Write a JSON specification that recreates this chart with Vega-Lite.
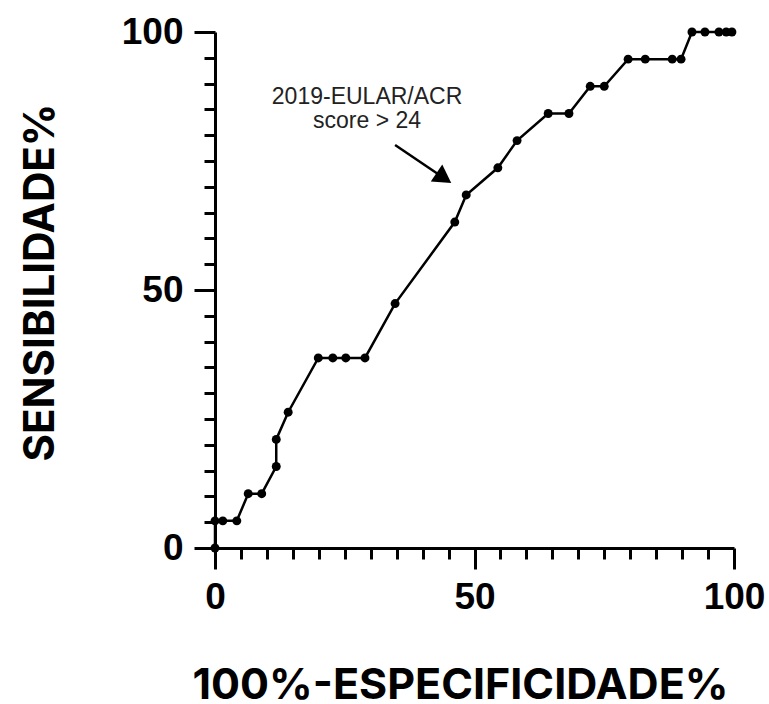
{
  "$schema": "https://vega.github.io/schema/vega-lite/v6.json",
  "width": 519,
  "height": 516,
  "autosize": {"type": "none"},
  "padding": {"left": 215, "top": 32, "right": 35, "bottom": 156},
  "background": "white",
  "config": {"view": {"stroke": null}},
  "datasets": {
    "roc": [
      {"i": 1, "fpr": 0, "sens": 0},
      {"i": 2, "fpr": 0, "sens": 5.26},
      {"i": 3, "fpr": 1.5, "sens": 5.26},
      {"i": 4, "fpr": 4.2, "sens": 5.26},
      {"i": 5, "fpr": 6.4, "sens": 10.53},
      {"i": 6, "fpr": 9.0, "sens": 10.53},
      {"i": 7, "fpr": 11.8, "sens": 15.79},
      {"i": 8, "fpr": 11.8, "sens": 21.05},
      {"i": 9, "fpr": 14.1, "sens": 26.32},
      {"i": 10, "fpr": 19.9, "sens": 36.84},
      {"i": 11, "fpr": 22.7, "sens": 36.84},
      {"i": 12, "fpr": 25.2, "sens": 36.84},
      {"i": 13, "fpr": 28.9, "sens": 36.84},
      {"i": 14, "fpr": 34.7, "sens": 47.37},
      {"i": 15, "fpr": 46.2, "sens": 63.16},
      {"i": 16, "fpr": 48.4, "sens": 68.42},
      {"i": 17, "fpr": 54.5, "sens": 73.68},
      {"i": 18, "fpr": 58.2, "sens": 78.95},
      {"i": 19, "fpr": 64.2, "sens": 84.21},
      {"i": 20, "fpr": 68.2, "sens": 84.21},
      {"i": 21, "fpr": 72.3, "sens": 89.47},
      {"i": 22, "fpr": 75.0, "sens": 89.47},
      {"i": 23, "fpr": 79.6, "sens": 94.74},
      {"i": 24, "fpr": 82.9, "sens": 94.74},
      {"i": 25, "fpr": 88.1, "sens": 94.74},
      {"i": 26, "fpr": 89.8, "sens": 94.74},
      {"i": 27, "fpr": 91.9, "sens": 100},
      {"i": 28, "fpr": 94.4, "sens": 100},
      {"i": 29, "fpr": 97.1, "sens": 100},
      {"i": 30, "fpr": 98.5, "sens": 100},
      {"i": 31, "fpr": 99.6, "sens": 100}
    ],
    "label": [
      {"text": "2019-EULAR/ACR", "x": 29.3, "y": 87.4},
      {"text": "score > 24", "x": 29.3, "y": 82.8}
    ],
    "arrow": [
      {"x": 34.7, "y": 78.1, "x2": 44.1, "y2": 71.7}
    ]
  },
  "resolve": {"axis": {"x": "independent", "y": "independent"}},
  "layer": [
    {
      "data": {"name": "roc"},
      "mark": {"type": "line", "color": "black", "strokeWidth": 2.5},
      "encoding": {
        "x": {
          "field": "fpr", "type": "quantitative",
          "scale": {"domain": [0, 100], "nice": false, "zero": false},
          "axis": {
            "orient": "bottom",
            "values": [0, 50, 100],
            "title": "100%-ESPECIFICIDADE%",
            "titleFont": "Inter", "titleFontSize": 43, "titleFontWeight": "bold", "titleColor": "black",
            "titleX": 245, "titleY": 150, "titleAlign": "center", "titleBaseline": "alphabetic",
            "labelFont": "Liberation Sans", "labelFontSize": 37, "labelFontWeight": "bold", "labelColor": "black",
            "labelPadding": 10, "labelFlush": false,
            "tickSize": 21, "tickWidth": 3, "tickColor": "black",
            "domainWidth": 3, "domainColor": "black", "grid": false
          }
        },
        "y": {
          "field": "sens", "type": "quantitative",
          "scale": {"domain": [0, 100], "nice": false, "zero": false},
          "axis": {
            "orient": "left",
            "values": [0, 50, 100],
            "title": "SENSIBILIDADE%",
            "titleFont": "Inter", "titleFontSize": 42, "titleFontWeight": "bold", "titleColor": "black",
            "titleX": -175, "titleY": 250, "titleAngle": -90, "titleAlign": "center", "titleBaseline": "middle",
            "labelFont": "Liberation Sans", "labelFontSize": 37, "labelFontWeight": "bold", "labelColor": "black",
            "labelPadding": 11, "labelFlush": false,
            "tickSize": 21, "tickWidth": 3, "tickColor": "black",
            "domainWidth": 3, "domainColor": "black", "grid": false
          }
        },
        "order": {"field": "i"}
      }
    },
    {
      "data": {"name": "roc"},
      "mark": {"type": "point", "filled": true, "color": "black", "opacity": 1, "size": 80},
      "encoding": {
        "x": {
          "field": "fpr", "type": "quantitative",
          "axis": {
            "orient": "bottom",
            "values": [5, 10, 15, 20, 25, 30, 35, 40, 45, 55, 60, 65, 70, 75, 80, 85, 90, 95],
            "labels": false, "title": null, "domain": false, "grid": false,
            "tickSize": 11, "tickWidth": 3, "tickColor": "black"
          }
        },
        "y": {
          "field": "sens", "type": "quantitative",
          "axis": {
            "orient": "left",
            "values": [5, 10, 15, 20, 25, 30, 35, 40, 45, 55, 60, 65, 70, 75, 80, 85, 90, 95],
            "labels": false, "title": null, "domain": false, "grid": false,
            "tickSize": 11, "tickWidth": 3, "tickColor": "black"
          }
        }
      }
    },
    {
      "data": {"name": "label"},
      "mark": {"type": "text", "font": "Liberation Sans", "fontSize": 23, "color": "#222", "align": "center", "baseline": "middle"},
      "encoding": {
        "x": {"field": "x", "type": "quantitative", "axis": null},
        "y": {"field": "y", "type": "quantitative", "axis": null},
        "text": {"field": "text"}
      }
    },
    {
      "data": {"name": "arrow"},
      "mark": {"type": "rule", "color": "black", "strokeWidth": 2.5},
      "encoding": {
        "x": {"field": "x", "type": "quantitative", "axis": null},
        "y": {"field": "y", "type": "quantitative", "axis": null},
        "x2": {"field": "x2"},
        "y2": {"field": "y2"}
      }
    },
    {
      "data": {"name": "arrow"},
      "mark": {"type": "point", "shape": "triangle-right", "filled": true, "color": "black", "opacity": 1, "size": 420, "angle": 34},
      "encoding": {
        "x": {"field": "x2", "type": "quantitative", "axis": null},
        "y": {"field": "y2", "type": "quantitative", "axis": null}
      }
    }
  ]
}
